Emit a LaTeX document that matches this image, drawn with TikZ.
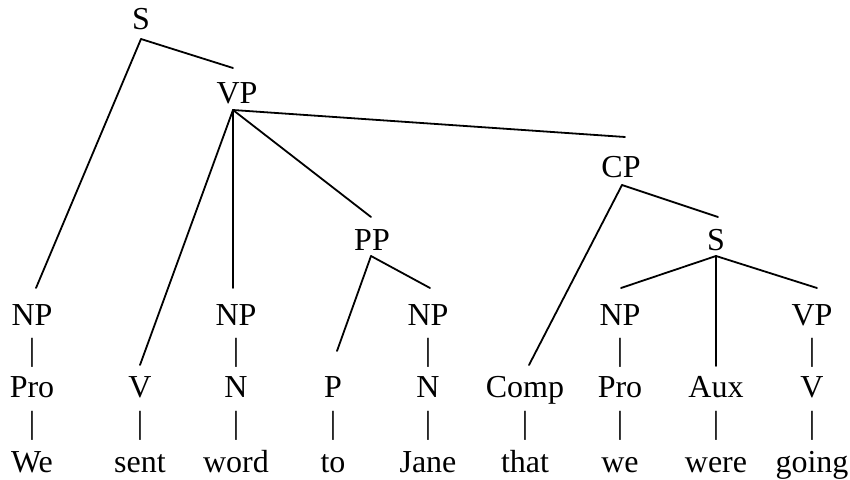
\documentclass[tikz,border=0pt]{standalone}
\usepackage{fontspec}
\setmainfont{Liberation Serif}
\begin{document}
\begin{tikzpicture}[x=1pt,y=-1pt,
  lab/.style={anchor=base,inner sep=0pt,font=\fontsize{32}{38}\selectfont},
  bar/.style={anchor=base,inner sep=0pt,font=\fontsize{32}{38}\selectfont},
  edge/.style={line width=1.8pt,line cap=round}]
\useasboundingbox (0,0) rectangle (850,479);
% phrase nodes
\node[lab] (S)  at (141,29) {S};
\node[lab] (VP) at (237,103) {VP};
\node[lab] (CP) at (621,177) {CP};
\node[lab] (PP) at (372,250) {PP};
\node[lab] (S2) at (716,250) {S};
% NP row
\node[lab] (NPa) at (32,325) {NP};
\node[lab] (NPc) at (236,325) {NP};
\node[lab] (NPe) at (428,325) {NP};
\node[lab] (NPg) at (620,325) {NP};
\node[lab] (VPi) at (812,325) {VP};
% bars row 1
\node[bar] (ba) at (32,360) {|};
\node[bar] (bc) at (236,360) {|};
\node[bar] (be) at (428,360) {|};
\node[bar] (bg) at (620,360) {|};
\node[bar] (bi) at (812,360) {|};
% category row
\node[lab] (Proa) at (32,397) {Pro};
\node[lab] (Vb)   at (140,397) {V};
\node[lab] (Nc)   at (236,397) {N};
\node[lab] (Pd)   at (333,397) {P};
\node[lab] (Ne)   at (428,397) {N};
\node[lab] (Compf) at (525,397) {Comp};
\node[lab] (Prog) at (620,397) {Pro};
\node[lab] (Auxh) at (716,397) {Aux};
\node[lab] (Vi)   at (812,397) {V};
% bars row 2
\foreach \n/\x in {a/32,b/140,c/236,d/333,e/428,f/525,g/620,h/716,i/812}
  \node[bar] (bb\n) at (\x,433) {|};
% words
\node[lab] (wa) at (32,472) {We};
\node[lab] (wb) at (140,472) {sent};
\node[lab] (wc) at (236,472) {word};
\node[lab] (wd) at (333,472) {to};
\node[lab] (we) at (428,472) {Jane};
\node[lab] (wf) at (525,472) {that};
\node[lab] (wg) at (620,472) {we};
\node[lab] (wh) at (716,472) {were};
\node[lab] (wi) at (812,472) {going};
% edges
\draw[edge] ([yshift=-10pt]S.base) -- ([xshift=4pt,yshift=37pt]NPa.base);
\draw[edge] ([yshift=-10pt]S.base) -- ([xshift=-4pt,yshift=35pt]VP.base);
\draw[edge] ([xshift=-4pt,yshift=-7pt]VP.base) -- ([yshift=32pt]Vb.base);
\draw[edge] ([xshift=-4pt,yshift=-7pt]VP.base) -- ([xshift=-3pt,yshift=37pt]NPc.base);
\draw[edge] ([xshift=-4pt,yshift=-7pt]VP.base) -- ([xshift=-1pt,yshift=33pt]PP.base);
\draw[edge] ([xshift=-4pt,yshift=-7pt]VP.base) -- ([xshift=4pt,yshift=40pt]CP.base);
\draw[edge] ([xshift=-1pt,yshift=-6pt]PP.base) -- ([xshift=4pt,yshift=46pt]Pd.base);
\draw[edge] ([xshift=-1pt,yshift=-6pt]PP.base) -- ([xshift=2pt,yshift=37pt]NPe.base);
\draw[edge] ([xshift=1pt,yshift=-8pt]CP.base) -- ([xshift=4pt,yshift=32pt]Compf.base);
\draw[edge] ([xshift=1pt,yshift=-8pt]CP.base) -- ([xshift=2pt,yshift=33pt]S2.base);
\draw[edge] ([yshift=-6pt]S2.base) -- ([xshift=1pt,yshift=37pt]NPg.base);
\draw[edge] ([yshift=-6pt]S2.base) -- ([yshift=31pt]Auxh.base);
\draw[edge] ([yshift=-6pt]S2.base) -- ([xshift=5pt,yshift=37pt]VPi.base);
\end{tikzpicture}
\end{document}
